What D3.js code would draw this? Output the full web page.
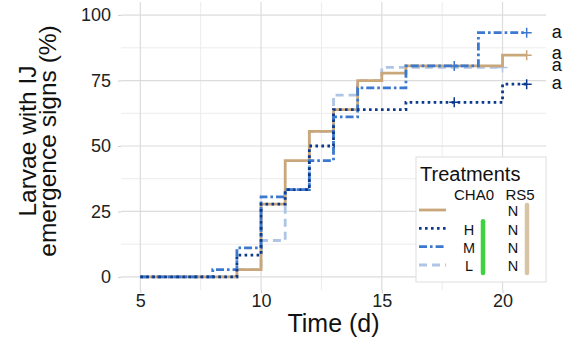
<!DOCTYPE html>
<html>
<head>
<meta charset="utf-8">
<script src="https://cdn.jsdelivr.net/npm/d3@7"></script>
<style>
  body { margin: 0; background: #fff; }
  text { font-family: "Liberation Sans", Arial, sans-serif; }
</style>
</head>
<body>
<div class="canvas"></div>
<script>
// Chart data
const treatments = ["N", "H", "M", "L"]
const chaLabels = ["", "H", "M", "L"]
const rsLabels = ["N", "N", "N", "N"]
const xTicks = [5, 10, 15, 20]
const yTicks = [0, 25, 50, 75, 100]

// step curves: times where the value changes, last time = end of curve
const nTimes = [5, 9, 10, 11, 12, 13, 14, 15, 16, 20, 21]
const nVals  = [0, 2.8, 27.8, 44.4, 55.6, 63.9, 75, 77.8, 80.6, 84.7, 84.7]
const hTimes = [5, 9, 10, 11, 12, 13, 16, 20, 21]
const hVals  = [0, 8.3, 27.8, 33.3, 50, 63.9, 66.7, 73.6, 73.6]
const mTimes = [5, 8, 9, 10, 11, 12, 13, 14, 16, 19, 21]
const mVals  = [0, 2.8, 11.1, 30.6, 33.3, 44.4, 61.1, 72.2, 80.6, 93.3, 93.3]
const lTimes = [5, 9, 10, 11, 12, 13, 14, 15, 20]
const lVals  = [0, 2.8, 13.9, 33.3, 55.6, 69.4, 75, 80, 80]

// censoring marks [time, value]
const nCensor = [[21, 84.7]]
const hCensor = [[18, 66.7], [21, 73.6]]
const mCensor = [[18, 80.6], [21, 93.3]]
const lCensor = [[20, 80]]

// significance letters at the end of each curve
const letterVals = [93.4, 85.4, 80.6, 74]
const letters = ["a", "a", "a", "a"]

// Setting constants
const wWidth = 568
const wHeight = 340

const svg = d3.select('.canvas')
    .append('svg')
    .attr("width", wWidth)
    .attr("height", wHeight)

const panel = {left: 121, right: 546, top: 2, bottom: 290}

const xScale = d3.scaleLinear().domain([4.2, 21.8]).range([panel.left, panel.right])
const yScale = d3.scaleLinear().domain([-5, 105]).range([panel.bottom, panel.top])

// styles per treatment
const colors = {N: "#c9a77b", H: "#0b3a8c", M: "#3b78d0", L: "#aec5e6"}
const dashes = {N: null, H: "2.6 3.4", M: "8 3 2.6 3", L: "8 5"}

// grid
const grid = svg.append('g')
const minorX = [7.5, 12.5, 17.5]
const minorY = [12.5, 37.5, 62.5, 87.5]
grid.selectAll('.mx').data(minorX).enter().append('line')
    .attr('x1', d => xScale(d)).attr('x2', d => xScale(d))
    .attr('y1', panel.top).attr('y2', panel.bottom)
    .attr('stroke', '#ececec').attr('stroke-width', 1)
grid.selectAll('.my').data(minorY).enter().append('line')
    .attr('y1', d => yScale(d)).attr('y2', d => yScale(d))
    .attr('x1', panel.left).attr('x2', panel.right)
    .attr('stroke', '#ececec').attr('stroke-width', 1)
grid.selectAll('.gx').data(xTicks).enter().append('line')
    .attr('x1', d => xScale(d)).attr('x2', d => xScale(d))
    .attr('y1', panel.top).attr('y2', panel.bottom)
    .attr('stroke', '#dcdcdc').attr('stroke-width', 1.2)
grid.selectAll('.gy').data(yTicks).enter().append('line')
    .attr('y1', d => yScale(d)).attr('y2', d => yScale(d))
    .attr('x1', panel.left).attr('x2', panel.right)
    .attr('stroke', '#dcdcdc').attr('stroke-width', 1.2)

// axes
const xAxis = d3.axisBottom(xScale).tickValues(xTicks).tickSize(3).tickPadding(1)
const yAxis = d3.axisLeft(yScale).tickValues(yTicks).tickSize(3).tickPadding(7)
const xg = svg.append('g').attr('transform', `translate(0, ${panel.bottom})`).call(xAxis)
const yg = svg.append('g').attr('transform', `translate(${panel.left}, 0)`).call(yAxis)
;[xg, yg].forEach(g => {
    g.select('.domain').remove()
    g.selectAll('.tick line').attr('stroke', '#cfcfcf')
    g.selectAll('.tick text')
        .attr('font-size', 18)
        .attr('fill', '#222')
        .style('font-family', '"Liberation Sans", Arial, sans-serif')
})

// axis titles
svg.append('text')
    .attr('x', (panel.left + panel.right) / 2)
    .attr('y', 332)
    .attr('text-anchor', 'middle')
    .attr('font-size', 25)
    .attr('fill', '#111')
    .text('Time (d)')
const yTitle = svg.append('text')
    .attr('transform', `translate(0, 141) rotate(-90)`)
    .attr('text-anchor', 'middle')
    .attr('font-size', 24.5)
    .attr('fill', '#111')
yTitle.append('tspan').attr('x', 0).attr('y', 36).text('Larvae with IJ')
yTitle.append('tspan').attr('x', 0).attr('y', 56).text('emergence signs (%)')

// step curves
const curves = [
    {key: "N", times: nTimes, vals: nVals, censor: nCensor},
    {key: "H", times: hTimes, vals: hVals, censor: hCensor},
    {key: "M", times: mTimes, vals: mVals, censor: mCensor},
    {key: "L", times: lTimes, vals: lVals, censor: lCensor}
]
const stepLine = d3.line()
    .x(d => xScale(d[0]))
    .y(d => yScale(d[1]))
    .curve(d3.curveStepAfter)

// draw L first so darker lines sit on top
const drawOrder = ["L", "N", "M", "H"]
drawOrder.forEach(k => {
    const c = curves.find(c => c.key === k)
    const pts = c.times.map((t, i) => [t, c.vals[i]])
    svg.append('path')
        .datum(pts)
        .attr('d', stepLine)
        .attr('fill', 'none')
        .attr('stroke', colors[k])
        .attr('stroke-width', 2.8)
        .attr('stroke-dasharray', dashes[k])
    svg.selectAll(null).data(c.censor).enter()
        .append('path')
        .attr('d', d => {
            const x = xScale(d[0]), y = yScale(d[1])
            return `M${x - 5},${y}H${x + 5}M${x},${y - 5}V${y + 5}`
        })
        .attr('stroke', colors[k])
        .attr('stroke-width', 1.5)
})

// letters
svg.selectAll('.letter').data(letterVals).enter()
    .append('text')
    .attr('x', xScale(22.25))
    .attr('y', d => yScale(d))
    .attr('dy', '0.3em')
    .attr('text-anchor', 'middle')
    .attr('font-size', 18)
    .attr('fill', '#111')
    .text((d, i) => letters[i])

// legend
const legend = svg.append('g')
legend.append('rect')
    .attr('x', 416).attr('y', 157)
    .attr('width', 130).attr('height', 125)
    .attr('fill', '#fff')
    .attr('stroke', '#dedede')
legend.append('text')
    .attr('x', 420).attr('y', 181)
    .attr('font-size', 20)
    .attr('fill', '#111')
    .text('Treatments')
legend.append('text')
    .attr('x', 474).attr('y', 200)
    .attr('text-anchor', 'middle')
    .attr('font-size', 15)
    .attr('fill', '#111')
    .text('CHA0')
legend.append('text')
    .attr('x', 520).attr('y', 200)
    .attr('text-anchor', 'middle')
    .attr('font-size', 15)
    .attr('fill', '#111')
    .text('RS5')

const rowY = d3.scalePoint().domain(treatments).range([211, 266])
treatments.forEach((k, i) => {
    const y = rowY(k)
    legend.append('line')
        .attr('x1', 419).attr('x2', 446)
        .attr('y1', y - 1).attr('y2', y - 1)
        .attr('stroke', colors[k])
        .attr('stroke-width', 2.8)
        .attr('stroke-dasharray', dashes[k])
    legend.append('text')
        .attr('x', 469).attr('y', y)
        .attr('dy', '0.36em')
        .attr('text-anchor', 'middle')
        .attr('font-size', 14.5)
        .attr('fill', '#111')
        .text(chaLabels[i])
    legend.append('text')
        .attr('x', 513).attr('y', y)
        .attr('dy', '0.36em')
        .attr('text-anchor', 'middle')
        .attr('font-size', 14.5)
        .attr('fill', '#111')
        .text(rsLabels[i])
})
// bars marking the group of CHA0 / RS5 treatments
legend.append('line')
    .attr('x1', 483).attr('x2', 483)
    .attr('y1', rowY("H") - 8).attr('y2', rowY("L") + 7)
    .attr('stroke', '#3fd23f').attr('stroke-width', 4.5)
    .attr('stroke-linecap', 'round')
legend.append('line')
    .attr('x1', 527).attr('x2', 527)
    .attr('y1', rowY("N") - 6).attr('y2', rowY("L") + 7)
    .attr('stroke', '#d8c3a2').attr('stroke-width', 4.5)
    .attr('stroke-linecap', 'round')
</script>
</body>
</html>
